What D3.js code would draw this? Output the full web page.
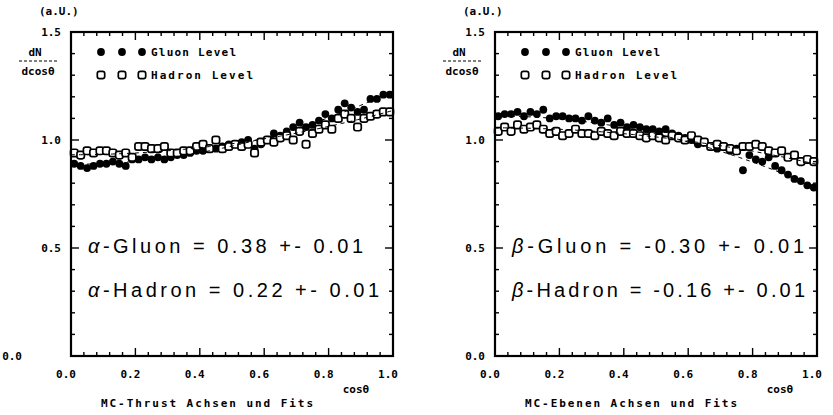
<!DOCTYPE html>
<html>
<head>
<meta charset="utf-8">
<script src="https://cdn.jsdelivr.net/npm/d3@7"></script>
<style>
  body { margin: 0; background: #fff; }
  svg { display: block; }
  .lbl { font-family: "DejaVu Sans Mono", monospace; font-weight: bold; font-size: 11px; fill: #000; }
  .big { font-family: "Liberation Sans", Arial, sans-serif; font-size: 20px; fill: #000; }
</style>
</head>
<body>
<svg id="chart" width="833" height="415"></svg>
<script>
// cos(theta) bin centres
const cosTheta = [0.01,0.03,0.05,0.07,0.09,0.11,0.13,0.15,0.17,0.19,
                  0.21,0.23,0.25,0.27,0.29,0.31,0.33,0.35,0.37,0.39,
                  0.41,0.43,0.45,0.47,0.49,0.51,0.53,0.55,0.57,0.59,
                  0.61,0.63,0.65,0.67,0.69,0.71,0.73,0.75,0.77,0.79,
                  0.81,0.83,0.85,0.87,0.89,0.91,0.93,0.95,0.97,0.99];

// MC thrust axes: dN/dcos(theta), gluon and hadron level
const thrustGluon = [0.89,0.88,0.87,0.88,0.89,0.89,0.90,0.89,0.88,0.91,
                     0.91,0.92,0.91,0.92,0.91,0.92,0.93,0.93,0.94,0.95,
                     0.95,0.96,0.96,0.97,0.98,0.98,0.99,1.00,0.96,0.98,
                     1.00,1.03,1.02,1.04,1.06,1.08,1.06,1.07,1.09,1.12,
                     1.10,1.14,1.17,1.15,1.13,1.14,1.19,1.19,1.21,1.21];
const thrustHadron = [0.94,0.93,0.95,0.94,0.95,0.95,0.94,0.93,0.94,0.92,
                      0.97,0.97,0.96,0.96,0.97,0.94,0.94,0.95,0.95,0.97,
                      0.98,0.96,1.00,0.96,0.97,0.98,0.97,0.98,0.94,0.99,
                      1.00,0.99,1.01,1.02,1.00,1.04,0.98,1.03,1.05,1.07,
                      1.05,1.10,1.12,1.10,1.06,1.10,1.11,1.12,1.13,1.13];

// MC event-plane axes: dN/dcos(theta), gluon and hadron level
const planeGluon = [1.11,1.12,1.12,1.13,1.11,1.13,1.12,1.14,1.10,1.11,
                    1.11,1.10,1.10,1.09,1.11,1.09,1.08,1.10,1.07,1.08,
                    1.06,1.07,1.06,1.05,1.05,1.04,1.05,1.03,1.02,1.01,
                    1.00,0.98,0.99,0.97,0.96,0.97,0.95,0.96,0.86,0.93,
                    0.91,0.90,0.92,0.88,0.86,0.84,0.82,0.81,0.79,0.78];
const planeHadron = [1.04,1.06,1.04,1.07,1.05,1.06,1.07,1.05,1.03,1.04,
                     1.02,1.03,1.05,1.03,1.03,1.02,1.04,1.03,1.02,1.04,
                     1.03,1.03,1.02,1.01,1.02,1.01,1.00,1.02,1.01,1.00,
                     1.02,1.00,0.99,0.97,0.98,0.97,0.96,0.95,0.97,0.97,
                     0.98,0.97,0.95,0.94,0.95,0.92,0.93,0.90,0.91,0.90];

// fit parameters of 1 + a*cos^2(theta) and their errors
const thrustAlpha = [0.38, 0.22];
const planeBeta = [-0.30, -0.16];
const fitError = 0.01;

const xTicks = [0.0, 0.2, 0.4, 0.6, 0.8, 1.0];
const yTicks = [0.0, 0.5, 1.0, 1.5];
const legendNames = ["Gluon Level", "Hadron Level"];
const panelTitles = ["MC-Thrust Achsen und Fits", "MC-Ebenen Achsen und Fits"];
const paramSymbols = ["\u03b1", "\u03b2"];
const levelNames = ["Gluon", "Hadron"];

const panels = [
  { left: 71,  gluon: thrustGluon, hadron: thrustHadron, params: thrustAlpha, sym: paramSymbols[0], title: panelTitles[0] },
  { left: 495, gluon: planeGluon,  hadron: planeHadron,  params: planeBeta,   sym: paramSymbols[1], title: panelTitles[1] }
];

const svg = d3.select("#chart");
const W = 322, TOP = 32, BOTTOM = 356;
const fmt = d3.format(".1f");
// plain ASCII hyphen for negative fit values
const fmtP = d3.formatLocale({ decimal: ".", thousands: ",", grouping: [3], currency: ["", ""], minus: "-" }).format(".2f");
const minorX = d3.range(0, 26).map(i => i * 0.04);
const minorY = d3.range(0, 16).map(i => i * 0.1);

panels.forEach((p, pi) => {
  const x = d3.scaleLinear().domain([0, 1]).range([p.left, p.left + W]);
  const y = d3.scaleLinear().domain([0, 1.5]).range([BOTTOM, TOP]);
  const g = svg.append("g");

  // tick labels
  g.selectAll("text.xl").data(xTicks).join("text")
    .attr("class", "lbl xl")
    .attr("x", d => x(d) - 5).attr("y", BOTTOM + 22)
    .attr("text-anchor", "middle").text(fmt);
  g.selectAll("text.yl").data(yTicks).join("text")
    .attr("class", "lbl yl")
    .attr("x", d => (pi === 0 && d === 0) ? 22 : p.left - 10)
    .attr("y", d => y(d) + 4)
    .attr("text-anchor", "end").text(fmt);

  // unit and axis labels
  g.append("text").attr("class", "lbl").attr("x", p.left - 32).attr("y", 15).text("(a.U.)");
  g.append("text").attr("class", "lbl").attr("x", p.left - 36).attr("y", 56)
    .attr("text-anchor", "middle").text("dN");
  g.append("line").attr("x1", p.left - 52).attr("x2", p.left - 14)
    .attr("y1", 61).attr("y2", 61)
    .attr("stroke", "#000").attr("stroke-width", 1.2).attr("stroke-dasharray", "3,2");
  g.append("text").attr("class", "lbl").attr("x", p.left - 33).attr("y", 75)
    .attr("text-anchor", "middle").text("dcos\u03b8");
  g.append("text").attr("class", "lbl").attr("x", x(1) - 37).attr("y", 393)
    .attr("text-anchor", "middle").text("cos\u03b8");
  g.append("text").attr("class", "lbl").attr("x", p.left + W / 2 - 25).attr("y", 407)
    .attr("text-anchor", "middle").attr("textLength", 212).attr("lengthAdjust", "spacing")
    .text(p.title);

  // data points: gluon level filled, hadron level open
  const pts = cosTheta.map((c, i) => ({ c, gl: p.gluon[i], hd: p.hadron[i] }));
  g.selectAll("circle.gl").data(pts).join("circle")
    .attr("class", "gl")
    .attr("cx", d => x(d.c)).attr("cy", d => y(d.gl)).attr("r", 3.9)
    .attr("fill", "#000");
  g.selectAll("rect.hd").data(pts).join("rect")
    .attr("class", "hd")
    .attr("x", d => x(d.c) - 3.7).attr("y", d => y(d.hd) - 3.7)
    .attr("width", 7.4).attr("height", 7.4).attr("rx", 2.2)
    .attr("fill", "#fff").attr("stroke", "#000").attr("stroke-width", 1.7);

  // normalised fit curves (1 + a c^2) / (1 + a/3)
  const grid = d3.range(0, 101).map(i => i / 100);
  p.params.forEach(a => {
    const line = d3.line().x(c => x(c)).y(c => y((1 + a * c * c) / (1 + a / 3)));
    g.append("path").attr("d", line(grid))
      .attr("fill", "none").attr("stroke", "#000").attr("stroke-width", 1)
      .attr("stroke-dasharray", "4,4");
  });

  // legend
  const legY = [52, 75];
  [0, 1].forEach(k => {
    [30, 51, 71].forEach(dx => {
      if (k === 0) {
        g.append("circle").attr("cx", p.left + dx).attr("cy", legY[k]).attr("r", 3.9).attr("fill", "#000");
      } else {
        g.append("rect").attr("x", p.left + dx - 3.7).attr("y", legY[k] - 3.7)
          .attr("width", 7.4).attr("height", 7.4).attr("rx", 2.2)
          .attr("fill", "#fff").attr("stroke", "#000").attr("stroke-width", 1.7);
      }
    });
    g.append("text").attr("class", "lbl").attr("x", p.left + 80).attr("y", legY[k] + 4)
      .attr("textLength", k === 0 ? 85 : 102).attr("lengthAdjust", "spacing")
      .text(legendNames[k]);
  });

  // fit results
  const resY = [253, 297];
  const resLen = pi === 0 ? [275, 291] : [292, 293];
  p.params.forEach((a, k) => {
    const t = g.append("text").attr("class", "big")
      .attr("x", p.left + 17).attr("y", resY[k])
      .attr("textLength", resLen[k]).attr("lengthAdjust", "spacing");
    t.append("tspan").attr("font-style", "italic").text(p.sym);
    t.append("tspan").text(`-${levelNames[k]} = ${fmtP(a)} +- ${fmtP(fitError)}`);
  });

  // inward ticks on all four sides (major every 0.2 / 0.5)
  const isMajorX = v => Math.abs(v * 5 - Math.round(v * 5)) < 1e-6;
  const isMajorY = v => Math.abs(v * 2 - Math.round(v * 2)) < 1e-6;
  const ticks = g.append("g").attr("stroke", "#000").attr("stroke-width", 1.4);
  ticks.selectAll("line.xb").data(minorX).join("line").attr("class", "xb")
    .attr("x1", d => x(d)).attr("x2", d => x(d))
    .attr("y1", BOTTOM).attr("y2", d => BOTTOM - (isMajorX(d) ? 8 : 4));
  ticks.selectAll("line.xt").data(minorX).join("line").attr("class", "xt")
    .attr("x1", d => x(d)).attr("x2", d => x(d))
    .attr("y1", TOP).attr("y2", d => TOP + (isMajorX(d) ? 8 : 4));
  ticks.selectAll("line.yl").data(minorY).join("line").attr("class", "yl")
    .attr("y1", d => y(d)).attr("y2", d => y(d))
    .attr("x1", x(0)).attr("x2", d => x(0) + (isMajorY(d) ? 8 : 4));
  ticks.selectAll("line.yr").data(minorY).join("line").attr("class", "yr")
    .attr("y1", d => y(d)).attr("y2", d => y(d))
    .attr("x1", x(1)).attr("x2", d => x(1) - (isMajorY(d) ? 8 : 4));

  // plot frame
  g.append("rect")
    .attr("x", x(0)).attr("y", y(1.5))
    .attr("width", x(1) - x(0)).attr("height", y(0) - y(1.5))
    .attr("fill", "none").attr("stroke", "#000").attr("stroke-width", 2.2);
});
</script>
</body>
</html>
